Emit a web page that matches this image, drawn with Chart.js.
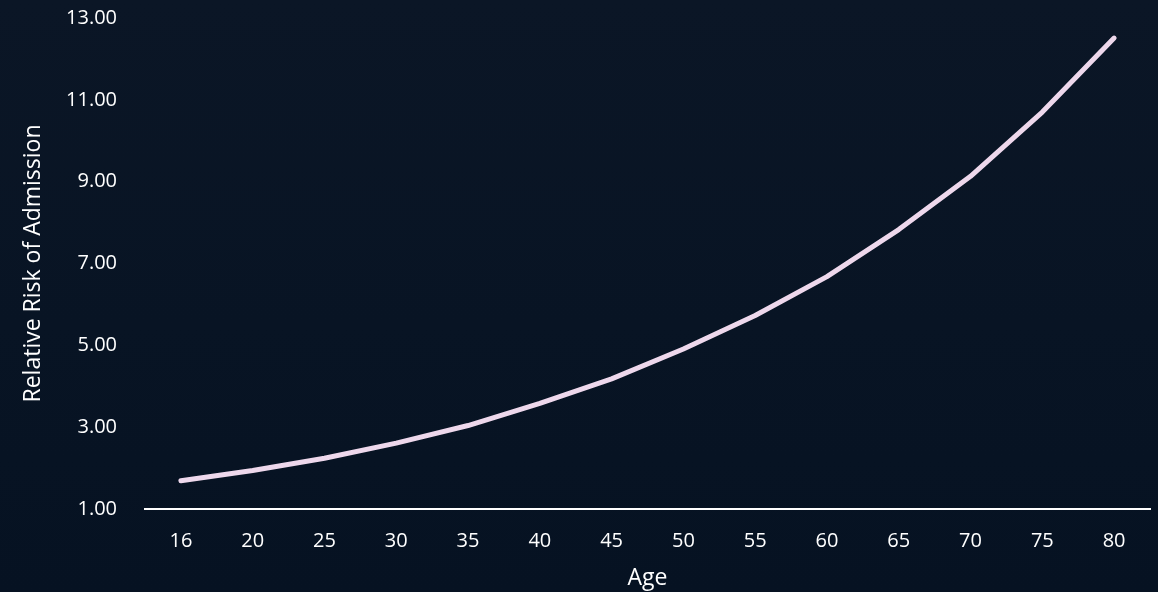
<!DOCTYPE html>
<html>
<head>
<meta charset="utf-8">
<script src="https://cdn.jsdelivr.net/npm/chart.js@4.4.1/dist/chart.umd.min.js"></script>
<style>
  html, body { margin: 0; padding: 0; }
  body {
    width: 1158px; height: 592px; overflow: hidden;
    background: linear-gradient(180deg, #0b1626 0%, #081424 55%, #061222 100%);
  }
  #wrap { position: relative; width: 1158px; height: 592px; }
</style>
</head>
<body>
<div id="wrap"><canvas id="riskChart" width="1158" height="592"></canvas></div>
<script>
const ages = ['16', '20', '25', '30', '35', '40', '45', '50', '55', '60', '65', '70', '75', '80'];
const relativeRisk = [1.69, 1.94, 2.24, 2.61, 3.04, 3.58, 4.18, 4.91, 5.73, 6.68, 7.83, 9.13, 10.70, 12.51];
const yMin = 1, yMax = 13, yStep = 2;

const FONT = "'Open Sans', 'DejaVu Sans', sans-serif";
const TEXT = '#ffffff';

const ctx = document.getElementById('riskChart').getContext('2d');

new Chart(ctx, {
    type: 'line',
    data: {
        labels: ages,
        datasets: [{
            label: 'Relative Risk of Admission',
            data: relativeRisk,
            borderColor: '#eed8ec',
            borderWidth: 5,
            borderCapStyle: 'round',
            borderJoinStyle: 'round',
            pointRadius: 0,
            tension: 0,
            fill: false
        }]
    },
    options: {
        responsive: false,
        animation: false,
        layout: { padding: { top: 0, right: 8, left: 0, bottom: 0 } },
        plugins: {
            legend: { display: false },
            tooltip: { enabled: false }
        },
        scales: {
            x: {
                offset: true,
                grid: { display: false, drawTicks: false },
                border: { display: true, color: '#ffffff', width: 2 },
                ticks: { color: TEXT, font: { family: FONT, size: 20 }, padding: 20 },
                title: {
                    display: true, text: 'Age', color: TEXT,
                    font: { family: FONT, size: 23 }, padding: { top: 4, bottom: 0 }
                },
                afterFit: (scale) => { scale.height = 83; }
            },
            y: {
                min: yMin,
                max: yMax,
                grid: { display: false, drawTicks: false },
                border: { display: false },
                ticks: {
                    stepSize: yStep,
                    color: TEXT,
                    font: { family: FONT, size: 20 },
                    padding: 28,
                    callback: (v) => Number(v).toFixed(2)
                },
                title: {
                    display: true, text: 'Relative Risk of Admission', color: TEXT,
                    font: { family: FONT, size: 23 }, padding: { top: 20, bottom: 0 }
                },
                afterFit: (scale) => {
                    scale.width = 145;
                    scale.paddingTop = 18; // pin top of plot to the 13.00 line
                    scale.paddingBottom = 0;
                }
            }
        }
    }
});
</script>
</body>
</html>
